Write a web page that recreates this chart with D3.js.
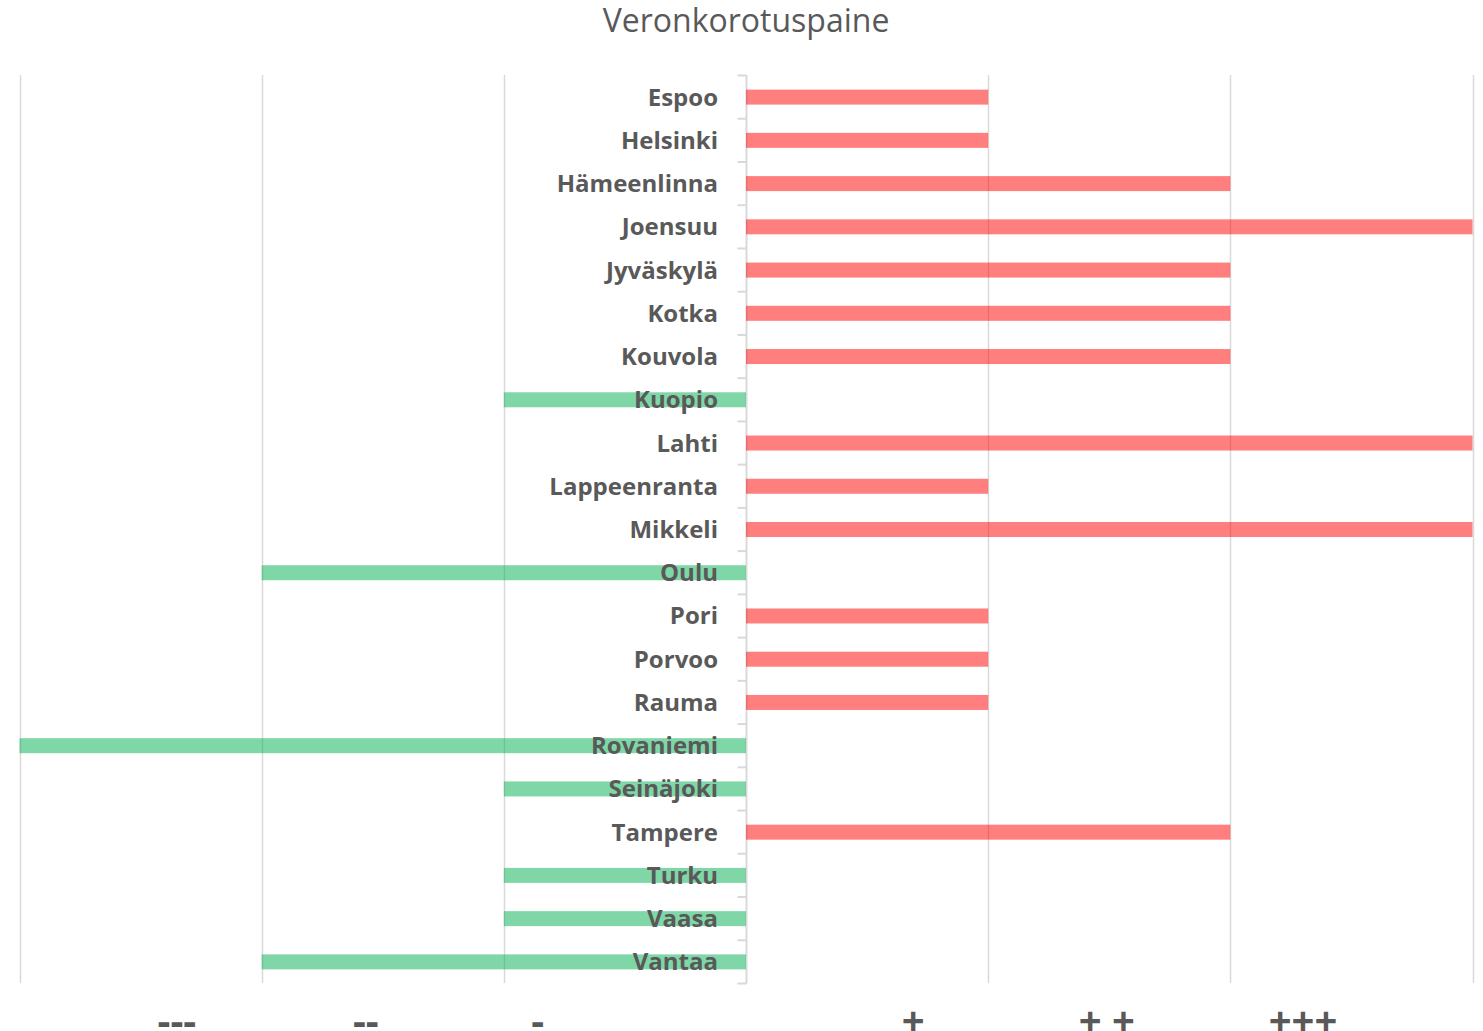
<!DOCTYPE html>
<html><head><meta charset="utf-8">
<script src="https://cdn.jsdelivr.net/npm/d3@7"></script>
<style>body{margin:0;background:#fff;} svg{display:block;}</style>
</head><body>
<svg id="c" width="1483" height="1031"></svg>
<script>
const title = "Veronkorotuspaine";
const cities = ["Espoo","Helsinki","Hämeenlinna","Joensuu","Jyväskylä","Kotka","Kouvola","Kuopio","Lahti","Lappeenranta","Mikkeli","Oulu","Pori","Porvoo","Rauma","Rovaniemi","Seinäjoki","Tampere","Turku","Vaasa","Vantaa"];
const values = [1,1,2,3,2,2,2,-1,3,1,3,-2,1,1,1,-3,-1,2,-1,-1,-2];
const gridValues = [-3,-2,-1,0,1,2,3];
const bottomLabels = ["---","--","-","+","+ +","+++"];
const bottomLabelPos = [-2.35,-1.57,-0.86,0.69,1.49,2.30];

const svg = d3.select("#c");
const x = d3.scaleLinear().domain([-3,3]).range([19.5,1472.5]);
const y = d3.scaleBand().domain(cities).range([75.5,983.5]);
const barH = 15;

svg.append("text").attr("x",746).attr("y",32).attr("text-anchor","middle")
  .attr("font-family","'Open Sans', sans-serif").attr("font-size",32).attr("fill","#595959").text(title);

svg.append("g").selectAll("line").data(gridValues.filter(v=>v!==0)).join("line")
  .attr("x1",d=>Math.round(x(d))+0.5).attr("x2",d=>Math.round(x(d))+0.5)
  .attr("y1",75).attr("y2",983).attr("stroke","#d9d9d9").attr("stroke-width",1.5);

// axis at zero with ticks at category boundaries (left side)
const x0 = Math.round(x(0))+0.5;
svg.append("line").attr("x1",x0).attr("x2",x0).attr("y1",75).attr("y2",983.5).attr("stroke","#d9d9d9").attr("stroke-width",2);
const bounds = cities.map(c=>y(c)).concat([y.range()[1]]);
svg.append("g").selectAll("line").data(bounds).join("line")
  .attr("x1",x0-9).attr("x2",x0).attr("y1",d=>d).attr("y2",d=>d)
  .attr("stroke","#d9d9d9").attr("stroke-width",2);

svg.append("g").selectAll("rect").data(cities.map((c,i)=>({c,v:values[i]}))).join("rect")
  .attr("x",d=>x(Math.min(0,d.v))).attr("width",d=>Math.abs(x(d.v)-x(0)))
  .attr("y",d=>y(d.c)+y.bandwidth()/2-barH/2).attr("height",barH)
  .attr("fill",d=>d.v>0?"#ff0000":"#00b050").attr("fill-opacity",0.5);

svg.append("g").selectAll("text").data(cities).join("text")
  .attr("x",718).attr("y",d=>y(d)+y.bandwidth()/2+8.5).attr("text-anchor","end")
  .attr("font-family","'Open Sans', sans-serif").attr("font-weight","bold").attr("font-size",24)
  .attr("fill","#595959").text(d=>d);

svg.append("g").selectAll("text").data(bottomLabels).join("text")
  .attr("x",(d,i)=>x(bottomLabelPos[i])).attr("y",1035).attr("text-anchor","middle")
  .attr("font-family","'Open Sans', sans-serif").attr("font-weight","bold").attr("font-size",40)
  .attr("fill","#595959").text(d=>d);
</script>
</body></html>
